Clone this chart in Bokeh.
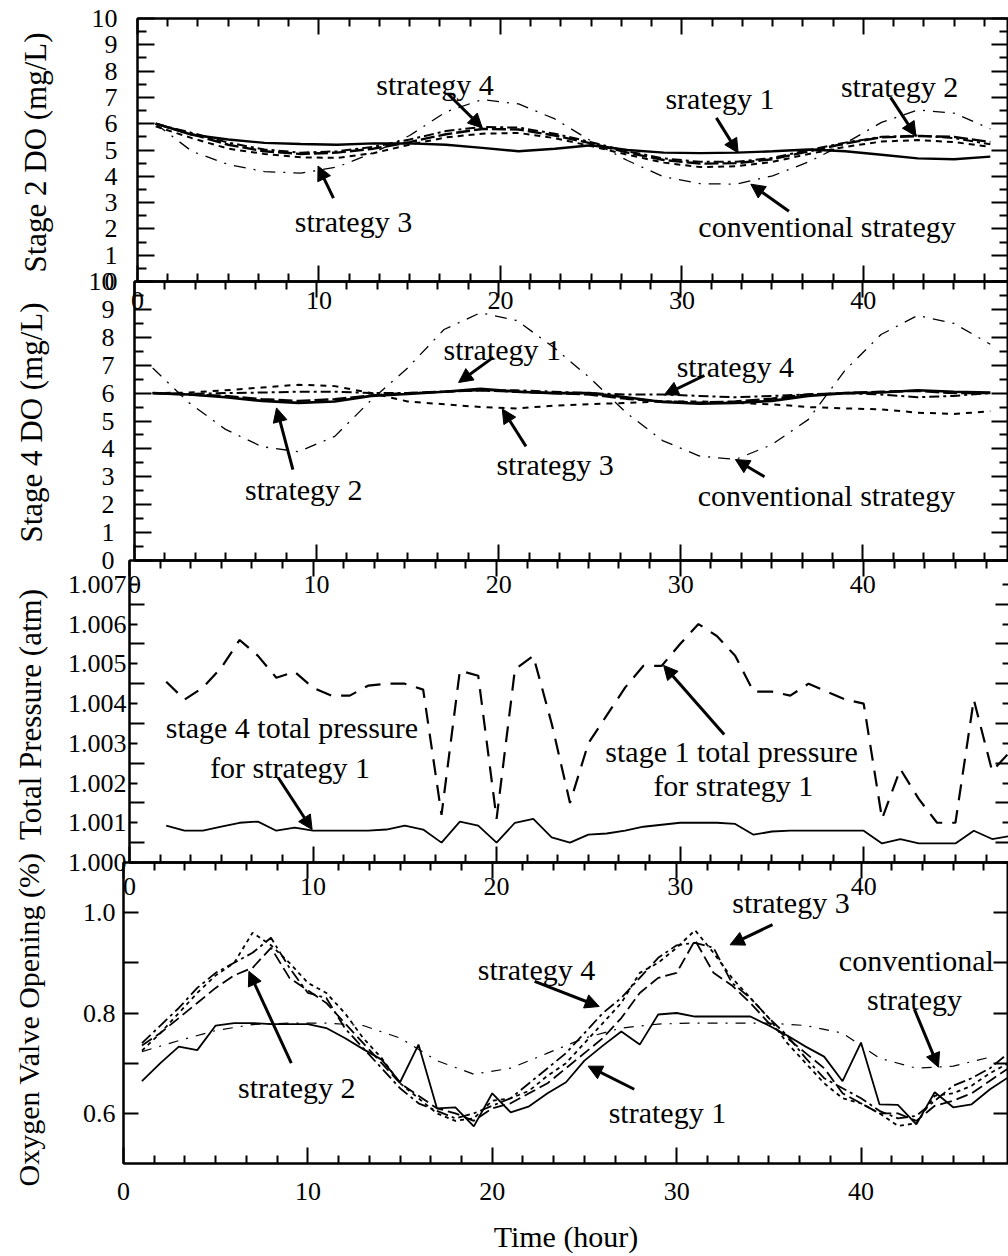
import math
from bokeh.plotting import figure
from bokeh.layouts import column, row
from bokeh.models import (ColumnDataSource, Range1d, LinearAxis, FixedTicker,
                          NumeralTickFormatter, Arrow, NormalHead)
from bokeh.core.properties import value
from bokeh.embed import file_html
from bokeh.resources import INLINE

SERIF = "Liberation Serif"

# ---------------------------------------------------------------- time bases (hour)
t_do = list(range(1, 48, 2))       # two-hourly DO samples
t_hour = list(range(1, 49))        # hourly valve samples
t_press = list(range(2, 49))       # hourly pressure samples

# ---------------------------------------------------------------- stage 2 DO (mg/L)
s2_strategy1 = [6.0, 5.58, 5.4, 5.27, 5.23, 5.2, 5.25, 5.25, 5.2, 5.08, 4.95, 5.05,
                5.18, 5.0, 4.9, 4.88, 4.9, 4.95, 5.02, 4.95, 4.82, 4.68, 4.65, 4.75]
s2_strategy2 = [6.0, 5.6, 5.2, 4.95, 4.85, 4.9, 5.05, 5.3, 5.6, 5.8, 5.78, 5.55,
                5.25, 4.9, 4.62, 4.48, 4.5, 4.65, 4.95, 5.25, 5.48, 5.53, 5.5, 5.3]
s2_strategy3 = [5.9, 5.45, 5.05, 4.85, 4.72, 4.7, 4.88, 5.2, 5.48, 5.62, 5.65, 5.45,
                5.15, 4.82, 4.52, 4.35, 4.38, 4.55, 4.85, 5.12, 5.32, 5.38, 5.3, 5.12]
s2_strategy4 = [6.0, 5.65, 5.28, 5.02, 4.9, 4.95, 5.12, 5.4, 5.72, 5.88, 5.85, 5.62,
                5.3, 4.95, 4.68, 4.55, 4.55, 4.7, 5.0, 5.28, 5.5, 5.55, 5.45, 5.22]
s2_conventional = [6.0, 4.95, 4.45, 4.18, 4.12, 4.35, 4.9, 5.55, 6.45, 6.92, 6.75, 6.18,
                   5.34, 4.6, 3.98, 3.72, 3.7, 4.02, 4.55, 5.25, 6.05, 6.52, 6.4, 5.8]

# ---------------------------------------------------------------- stage 4 DO (mg/L)
s4_strategy1 = [6.0, 5.95, 5.85, 5.72, 5.65, 5.7, 5.9, 5.97, 6.05, 6.15, 6.05, 6.0,
                6.0, 5.85, 5.68, 5.62, 5.65, 5.72, 5.9, 6.0, 6.02, 6.1, 6.05, 6.02]
s4_strategy2 = [6.0, 5.95, 5.9, 5.78, 5.72, 5.78, 5.92, 6.0, 6.05, 6.1, 6.05, 6.0,
                5.95, 5.8, 5.7, 5.66, 5.7, 5.8, 5.95, 6.0, 6.05, 6.08, 6.0, 6.0]
s4_strategy3 = [6.0, 6.02, 6.1, 6.2, 6.3, 6.25, 6.0, 5.7, 5.6, 5.5, 5.45, 5.55,
                5.6, 5.65, 5.7, 5.7, 5.65, 5.6, 5.5, 5.45, 5.42, 5.3, 5.25, 5.35]
s4_strategy4 = [6.0, 5.97, 6.0, 6.02, 6.05, 6.05, 6.0, 6.0, 6.05, 6.1, 6.1, 6.05,
                6.0, 5.95, 5.95, 5.9, 5.85, 5.9, 5.95, 6.0, 5.95, 5.85, 5.9, 6.0]
s4_conventional = [6.9, 5.65, 4.7, 4.08, 3.9, 4.45, 5.75, 6.9, 8.28, 8.88, 8.6, 7.65,
                   6.55, 5.3, 4.3, 3.75, 3.62, 4.15, 5.05, 6.8, 8.1, 8.78, 8.5, 7.75]

# ---------------------------------------------------------------- total pressure (atm)
p_stage1 = [1.00455, 1.0041, 1.0044, 1.0049, 1.0056, 1.0052, 1.00465, 1.0048, 1.0044, 1.0042,
            1.0042, 1.00445, 1.0045, 1.0045, 1.00435, 1.0012, 1.00483, 1.0047, 1.0011, 1.00486,
            1.0052, 1.0035, 1.0015, 1.003, 1.0037, 1.0044, 1.00495, 1.00495, 1.0055, 1.006,
            1.0057, 1.0052, 1.0043, 1.0043, 1.0042, 1.0045, 1.0043, 1.0041, 1.004, 1.0011,
            1.00235, 1.0016, 1.001, 1.001, 1.0041, 1.0023, 1.0028]
p_stage4 = [1.00093, 1.0008, 1.0008, 1.0009, 1.001, 1.00103, 1.0008, 1.00088, 1.0008, 1.0008,
            1.0008, 1.0008, 1.00083, 1.00093, 1.00083, 1.0005, 1.00103, 1.00093, 1.0005, 1.001,
            1.0011, 1.00063, 1.0005, 1.0007, 1.00073, 1.0008, 1.0009, 1.00095, 1.001, 1.001,
            1.001, 1.00097, 1.0007, 1.00078, 1.0008, 1.0008, 1.0008, 1.0008, 1.0008, 1.00048,
            1.00059, 1.00048, 1.00048, 1.00048, 1.0008, 1.00059, 1.00067]

# ---------------------------------------------------------------- oxygen valve opening
v_strategy1 = [0.664, 0.70, 0.733, 0.726, 0.775, 0.78, 0.78, 0.778, 0.778, 0.778,
               0.77, 0.75, 0.728, 0.707, 0.662, 0.737, 0.61, 0.612, 0.574, 0.64,
               0.602, 0.614, 0.64, 0.662, 0.705, 0.735, 0.763, 0.737, 0.797, 0.80,
               0.793, 0.793, 0.793, 0.793, 0.775, 0.755, 0.733, 0.713, 0.664, 0.741,
               0.618, 0.617, 0.578, 0.642, 0.612, 0.618, 0.648, 0.672]
v_strategy2 = [0.735, 0.76, 0.79, 0.82, 0.85, 0.875, 0.89, 0.93, 0.87, 0.845,
               0.82, 0.78, 0.74, 0.70, 0.66, 0.635, 0.61, 0.60, 0.585, 0.61,
               0.62, 0.64, 0.66, 0.69, 0.72, 0.75, 0.79, 0.84, 0.87, 0.88,
               0.945, 0.88, 0.855, 0.82, 0.78, 0.75, 0.72, 0.69, 0.64, 0.62,
               0.60, 0.60, 0.585, 0.615, 0.625, 0.64, 0.665, 0.69]
v_strategy3 = [0.725, 0.76, 0.80, 0.84, 0.875, 0.90, 0.96, 0.935, 0.90, 0.86,
               0.84, 0.80, 0.75, 0.71, 0.66, 0.63, 0.60, 0.585, 0.59, 0.625,
               0.63, 0.645, 0.675, 0.70, 0.74, 0.78, 0.82, 0.88, 0.90, 0.93,
               0.965, 0.92, 0.87, 0.83, 0.79, 0.74, 0.70, 0.66, 0.63, 0.62,
               0.60, 0.575, 0.58, 0.635, 0.64, 0.655, 0.68, 0.70]
v_strategy4 = [0.74, 0.775, 0.81, 0.85, 0.88, 0.90, 0.92, 0.95, 0.89, 0.84,
               0.83, 0.77, 0.73, 0.69, 0.65, 0.62, 0.605, 0.59, 0.60, 0.615,
               0.63, 0.66, 0.69, 0.72, 0.76, 0.80, 0.83, 0.87, 0.91, 0.935,
               0.94, 0.93, 0.86, 0.83, 0.79, 0.755, 0.71, 0.67, 0.65, 0.63,
               0.605, 0.59, 0.595, 0.625, 0.655, 0.67, 0.69, 0.72]
v_conventional = [0.723, 0.745, 0.765, 0.777, 0.78, 0.78, 0.775, 0.75, 0.705, 0.678,
                  0.69, 0.72, 0.75, 0.77, 0.778, 0.78, 0.78, 0.78, 0.775, 0.76,
                  0.71, 0.69, 0.694, 0.712]

# ---------------------------------------------------------------- tick values
X_MAJOR = [0, 10, 20, 30, 40]
X_MINOR = [round(k * 10 / 6, 4) for k in range(1, 29) if k % 6]
DO_MAJOR = list(range(0, 11))
DO_MINOR = [k + 0.5 for k in range(10)]
P_MAJOR = [round(1.0 + k * 0.001, 4) for k in range(8)]
P_MINOR = [round(1.0005 + k * 0.001, 4) for k in range(7)]
V_MAJOR = [0.6, 0.8, 1.0]
V_MINOR = [0.7, 0.9]

# ---------------------------------------------------------------- callouts
P1_TEXT = [("strategy 4", 16.4, 7.48), ("srategy 1", 32.1, 6.95), ("strategy 2", 42.0, 7.4),
           ("strategy 3", 11.9, 2.29), ("conventional strategy", 38.0, 2.1)]
P1_ARROWS = [(17.1, 7.14, 19.0, 5.84), (31.9, 6.22, 33.1, 4.89), (41.5, 7.0, 42.9, 5.53),
             (10.8, 3.17, 9.95, 4.39), (35.9, 2.67, 33.8, 3.7)]
P2_TEXT = [("strategy 1", 20.2, 7.57), ("strategy 4", 33.0, 6.96), ("strategy 2", 9.3, 2.54),
           ("strategy 3", 23.1, 3.44), ("conventional strategy", 38.0, 2.32)]
P2_ARROWS = [(19.7, 7.28, 17.8, 6.38), (31.3, 6.63, 29.1, 5.94), (8.7, 3.26, 7.8, 5.47),
             (21.5, 4.09, 20.2, 5.43), (34.6, 3.0, 33.0, 3.62)]
P3_TEXT = [("stage 4 total pressure", 8.85, 1.0034), ("for strategy 1", 8.75, 1.00239),
           ("stage 1 total pressure", 32.8, 1.0028), ("for strategy 1", 32.9, 1.00194)]
P3_ARROWS = [(8.1, 1.00214, 9.95, 1.00083), (32.4, 1.00322, 29.1, 1.00496)]
P4_TEXT = [("strategy 2", 9.4, 0.652), ("strategy 4", 22.4, 0.887), ("strategy 1", 29.5, 0.602),
           ("strategy 3", 36.2, 1.02), ("conventional", 43.0, 0.905), ("strategy", 42.9, 0.827)]
P4_ARROWS = [(9.1, 0.70, 6.8, 0.883), (22.3, 0.863, 25.8, 0.813), (27.7, 0.648, 25.2, 0.694),
             (35.2, 0.976, 32.9, 0.936), (42.9, 0.807, 44.2, 0.692)]

Y_TITLES = ["Stage 2 DO (mg/L)", "Stage 4 DO (mg/L)", "Total Pressure (atm)",
            "Oxygen Valve Opening (%)"]

STRIP = 60
PANEL_W = 1008 - STRIP
LEFT = 71          # frame starts 131 px from the page edge before any shift
OVER_TOP = 14      # spare room above a stacked panel's frame
OVER_BOTTOM = 44   # room for the tick labels under a frame


def style_axis(ax, major_len, minor_len, labels, standoff=0):
    ax.axis_line_color = "black"
    ax.axis_line_width = 2
    ax.major_tick_line_color = "black"
    ax.major_tick_line_width = 2
    ax.minor_tick_line_color = "black"
    ax.minor_tick_line_width = 2
    ax.major_tick_in = major_len
    ax.major_tick_out = 0
    ax.minor_tick_in = minor_len
    ax.minor_tick_out = 0
    if labels:
        ax.major_label_text_font = SERIF
        ax.major_label_text_font_size = "26px"
        ax.major_label_text_color = "black"
        ax.major_label_standoff = standoff
    else:
        # tick marks only
        ax.major_label_text_font_size = "0px"
        ax.major_label_text_color = None
        ax.major_label_text_alpha = 0
        ax.major_label_standoff = 0


def make_panel(height, shift, top, bottom, y_lo, y_hi, y_major, y_minor, y_fmt,
               y_major_len, y_minor_len, y_standoff, x_standoff, x_title=None):
    # shift: horizontal offset of this panel (the stacked frames sit slightly skewed);
    # a panel pulled to the left is widened by twice its shift so it still reaches the edge
    width = PANEL_W - shift + max(0, -shift)
    p = figure(width=width, height=height,
               x_range=Range1d(0, 48), y_range=Range1d(y_lo, y_hi),
               x_axis_location=None, y_axis_location=None,
               output_backend="svg", toolbar_location=None,
               min_border_left=LEFT, min_border_right=0,
               min_border_top=top, min_border_bottom=bottom)
    p.grid.visible = False
    p.outline_line_color = "black"
    p.outline_line_width = 2
    p.background_fill_alpha = 0
    p.border_fill_alpha = 0

    x_ticker = FixedTicker(ticks=X_MAJOR, minor_ticks=X_MINOR)
    xb = LinearAxis(ticker=x_ticker)
    style_axis(xb, 16, 8, True, x_standoff)
    if x_title:
        xb.axis_label = x_title
        xb.axis_label_text_font = SERIF
        xb.axis_label_text_font_size = "30px"
        xb.axis_label_text_font_style = "normal"
        xb.axis_label_text_color = "black"
        xb.axis_label_standoff = 17
    p.add_layout(xb, "below")
    xa = LinearAxis(ticker=x_ticker)
    style_axis(xa, 16, 8, False)
    p.add_layout(xa, "above")

    y_ticker = FixedTicker(ticks=y_major, minor_ticks=y_minor)
    yl = LinearAxis(ticker=y_ticker)
    if y_fmt:
        yl.formatter = NumeralTickFormatter(format=y_fmt)
    style_axis(yl, y_major_len, y_minor_len, True, y_standoff)
    p.add_layout(yl, "left")
    yr = LinearAxis(ticker=y_ticker)
    style_axis(yr, y_major_len, y_minor_len, False)
    p.add_layout(yr, "right")
    return p


def annotate(p, texts, arrows):
    src = ColumnDataSource(dict(x=[t[1] for t in texts], y=[t[2] for t in texts],
                                text=[t[0] for t in texts]))
    p.text(x="x", y="y", text="text", source=src, text_font=value(SERIF),
           text_font_size=value("30px"), text_align="center", text_baseline="middle",
           text_color="black")
    for x0, y0, x1, y1 in arrows:
        p.add_layout(Arrow(end=NormalHead(size=14, fill_color="black", line_color="black"),
                           x_start=x0, y_start=y0, x_end=x1, y_end=y1,
                           line_width=3, line_color="black"))


SHIFTS = [6, 3, -2, -8]

# ---------------------------------------------------------------- panel 1: stage 2 DO
p1 = make_panel(18 + 263 + OVER_BOTTOM, SHIFTS[0], 18, OVER_BOTTOM, 0, 10, DO_MAJOR,
                DO_MINOR, None, 17, 9, 20, 10)
p1.background_fill_alpha = 1
p1.border_fill_alpha = 1
p1.line(t_do, s2_conventional, line_color="black", line_width=1.3, line_dash="12 8 2 8")
p1.line(t_do, s2_strategy3, line_color="black", line_width=2, line_dash="6 5")
p1.line(t_do, s2_strategy4, line_color="black", line_width=2, line_dash="10 4 3 4")
p1.line(t_do, s2_strategy2, line_color="black", line_width=2.4, line_dash="14 4")
p1.line(t_do, s2_strategy1, line_color="black", line_width=2.4)
annotate(p1, P1_TEXT, P1_ARROWS)

# ---------------------------------------------------------------- panel 2: stage 4 DO
p2 = make_panel(OVER_TOP + 279 + OVER_BOTTOM, SHIFTS[1], OVER_TOP, OVER_BOTTOM, 0, 10,
                DO_MAJOR, DO_MINOR, None, 17, 9, 20, 15)
p2.line(t_do, s4_conventional, line_color="black", line_width=1.3, line_dash="12 8 2 8")
p2.line(t_do, s4_strategy3, line_color="black", line_width=2, line_dash="6 6")
p2.line(t_do, s4_strategy4, line_color="black", line_width=2, line_dash="10 4 3 4")
p2.line(t_do, s4_strategy2, line_color="black", line_width=2.4, line_dash="14 4")
p2.line(t_do, s4_strategy1, line_color="black", line_width=2.6)
annotate(p2, P2_TEXT, P2_ARROWS)

# ---------------------------------------------------------------- panel 3: pressure
p3 = make_panel(OVER_TOP + 302 + OVER_BOTTOM, SHIFTS[2], OVER_TOP, OVER_BOTTOM, 1.0, 1.0076,
                P_MAJOR, P_MINOR, "0.000", 8, 15, 3, 15)
p3.line(t_press, p_stage1, line_color="black", line_width=2.2, line_dash="16 10")
p3.line(t_press, p_stage4, line_color="black", line_width=1.8)
annotate(p3, P3_TEXT, P3_ARROWS)

# ---------------------------------------------------------------- panel 4: valve opening
p4 = make_panel(OVER_TOP + 301 + 93, SHIFTS[3], OVER_TOP, 93, 0.5, 1.1, V_MAJOR, V_MINOR,
                "0.0", 15, 15, 8, 19, x_title="Time (hour)")
p4.line(t_do, v_conventional, line_color="black", line_width=1.2, line_dash="10 8 2 8")
p4.line(t_hour, v_strategy3, line_color="black", line_width=1.8, line_dash="4 4")
p4.line(t_hour, v_strategy4, line_color="black", line_width=1.8, line_dash="12 4 3 4")
p4.line(t_hour, v_strategy2, line_color="black", line_width=1.8, line_dash="12 5")
p4.line(t_hour, v_strategy1, line_color="black", line_width=1.8)
annotate(p4, P4_TEXT, P4_ARROWS)

# each panel sits in its own wrapper; the wrappers slide up over the label room of the
# panel above so that the frames share their borders
slots = [row(p1, margin=(0, 0, 0, SHIFTS[0]))]
for p, s in zip((p2, p3, p4), SHIFTS[1:]):
    slots.append(row(p, margin=(-(OVER_TOP + OVER_BOTTOM), 0, 0, s)))

# ---------------------------------------------------------------- y titles column
strip = figure(width=STRIP, height=1256, x_range=Range1d(0, STRIP),
               y_range=Range1d(1256, 0), x_axis_location=None, y_axis_location=None,
               output_backend="svg", toolbar_location=None, min_border=0)
strip.grid.visible = False
strip.outline_line_color = None
strip.text(x=[34.5, 30.5, 29.5, 27.5], y=[152, 422, 714, 1019], text=Y_TITLES,
           angle=math.pi / 2, text_font=value(SERIF),
           text_font_size=["31px", "31px", "31px", "30px"],
           text_align="center", text_baseline="middle", text_color="black")

layout = row(strip, column(*slots))
open("out.html", "w").write(file_html(layout, INLINE))
